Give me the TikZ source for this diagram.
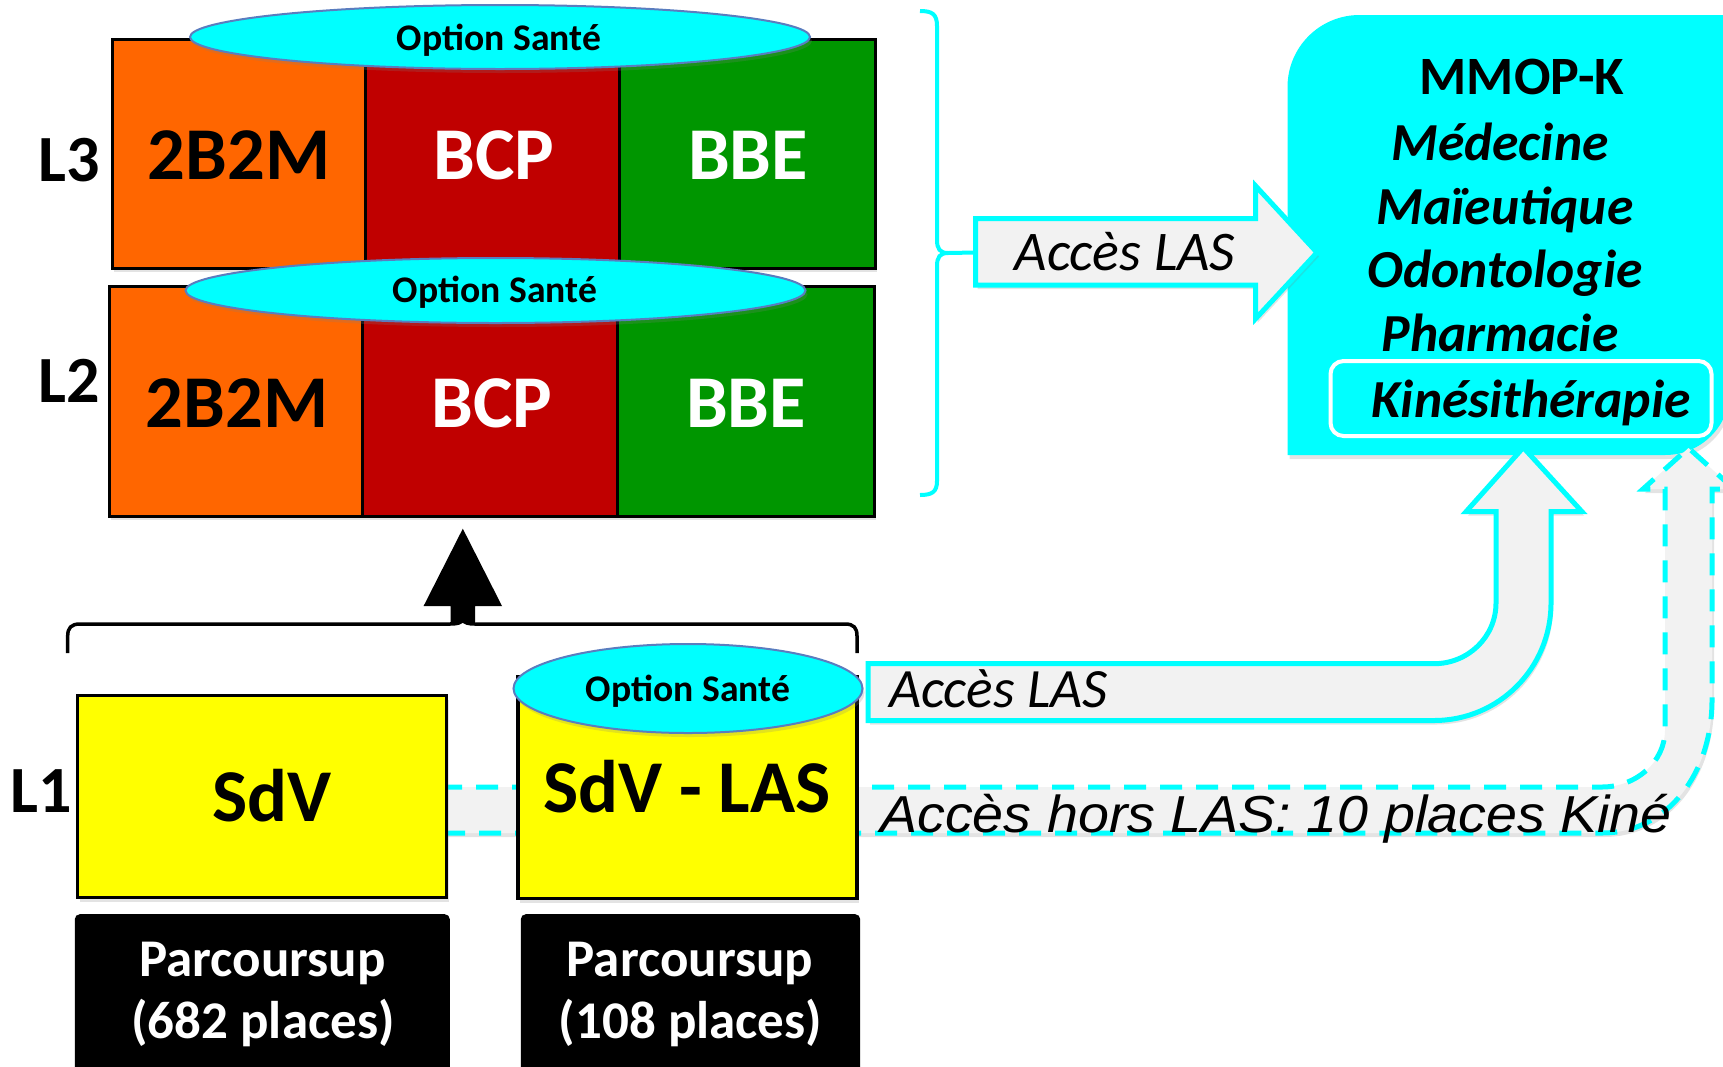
\documentclass[tikz,border=0pt]{standalone}
\usepackage{fontspec}
\usepackage{graphicx}
\setmainfont{Carlito}
\newfontfamily\arialf{Liberation Sans}
\usetikzlibrary{shapes.geometric,shadows}
\definecolor{orangeL}{HTML}{FF6600}
\definecolor{redL}{HTML}{C00000}
\definecolor{greenL}{HTML}{009600}
\definecolor{cyanL}{HTML}{00FFFF}
\definecolor{yellowL}{HTML}{FFFF00}
\definecolor{grayL}{HTML}{F2F2F2}
\definecolor{ellL}{HTML}{5A7DBF}
\tikzset{
  shad/.style={drop shadow={shadow xshift=2pt, shadow yshift=-4pt, opacity=0.22}},
  cellbox/.style={draw=black, line width=3pt, inner sep=0pt, minimum height=229pt, shad},
  optell/.style={ellipse, fill=cyanL, draw=ellL, line width=2pt, inner sep=0pt, shad},
  lvl/.style={font=\fontsize{66}{66}\selectfont\bfseries, anchor=base, inner sep=0pt},
  celltxt/.style={font=\fontsize{74.5}{74.5}\selectfont\bfseries, anchor=base, inner sep=0pt},
  opttxt/.style={font=\fontsize{37.6}{37.6}\selectfont\bfseries, anchor=base, inner sep=0pt},
  yelbox/.style={draw=black, fill=yellowL, line width=3.5pt, inner sep=0pt, shad},
  psbox/.style={fill=black, rounded corners=5pt, inner sep=0pt, anchor=north west},
  pstxt/.style={font=\fontsize{53}{53}\selectfont\bfseries, text=white, anchor=base, inner sep=0pt},
  mmtxt/.style={font=\fontsize{53.5}{53.5}\selectfont\bfseries\itshape, anchor=base, inner sep=0pt},
  lasarrow/.style={fill=grayL, draw=cyanL, line width=5pt, shad},
  lastxt/.style={font=\fontsize{56}{56}\selectfont\itshape, anchor=base, inner sep=0pt},
}
\begin{document}
\begin{tikzpicture}[x=1pt,y=-1pt]
\useasboundingbox (0,0) rectangle (1723,1066);
\clip (0,0) rectangle (1723,1066);

% big cyan box
\path[fill=cyanL, shad] (1287.5,455) -- (1287.5,87) .. controls (1287.5,47.2) and (1319.7,15) .. (1359.5,15)
  -- (1730,15) -- (1730,390) .. controls (1730,426) and (1701,455) .. (1665,455) -- cycle;
\node[mmtxt, font=\fontsize{54}{54}\selectfont\bfseries] (mmop) at (1522,94.7) {MMOP-K};
\node[mmtxt] (med) at (1500,160) {Médecine};
\node[mmtxt] (mai) at (1505,224) {Maïeutique};
\node[mmtxt] (odo) at (1505,287.6) {Odontologie};
\node[mmtxt] (pha) at (1500,351) {Pharmacie};
\node[draw=white, line width=4pt, rounded corners=13pt, minimum width=381pt, minimum height=75pt, inner sep=0pt] (kinebox) at (1521,398.5) {};
\node[mmtxt] (kine) at (1531,417.5) {Kinésithérapie};

% dashed arrow (hors LAS)
\path[fill=grayL, draw=cyanL, line width=5pt, dash pattern=on 22pt off 14pt, shad]
  (440,787) -- (1602,787) .. controls (1636,787) and (1665,762) .. (1665,730)
  -- (1665,489) -- (1643,489) -- (1688.5,448) -- (1734,489) -- (1712,489)
  -- (1712,700) .. controls (1712,773) and (1668,833) .. (1602,833) -- (440,833) -- cycle;

% solid bent arrow (Acces LAS)
\path[lasarrow] (868,663.7) -- (1434,663.7) .. controls (1468,663.7) and (1496,637) .. (1496,603)
  -- (1496,511.7) -- (1466,511.7) -- (1523.3,447.5) -- (1582,511.7) -- (1551,511.7)
  -- (1551,603) .. controls (1551,668) and (1499,720.5) .. (1434,720.5) -- (868,720.5) -- cycle;
\node[lastxt, font=\fontsize{55.5}{55.5}\selectfont\itshape, anchor=base west] (las2) at (889,707) {Accès LAS};

% L1 boxes
\node[yelbox, minimum width=369pt, minimum height=202pt] (sdv) at (262,796.6) {};
\node[celltxt] (sdvt) at (272,821) {SdV};
\node[yelbox, minimum width=339pt, minimum height=222pt] (sdvlas) at (687.5,787.5) {};
\node[optell, minimum width=349pt, minimum height=89pt] (opt1) at (688,688.5) {};
\node[opttxt] (opt1t) at (688,701) {Option Santé};
\node[celltxt] (sdvlast) at (687,812) {SdV - LAS};
\node[lvl] (l1) at (41.5,812) {L1};

\node[lastxt, font=\fontsize{52}{52}\selectfont\arialf\itshape, anchor=base west] (hors) at (880,832)
  {\scalebox{1.07}[1]{Accès hors LAS: 10 places Kiné}};

% Parcoursup boxes
\node[psbox, minimum width=375pt, minimum height=180pt] (ps1) at (74.6,914) {};
\node[pstxt] (ps1a) at (262.6,976) {Parcoursup};
\node[pstxt] (ps1b) at (263,1038) {(682 places)};
\node[psbox, minimum width=339.4pt, minimum height=180pt] (ps2) at (520.6,914) {};
\node[pstxt] (ps2a) at (690,976) {Parcoursup};
\node[pstxt] (ps2b) at (690.5,1038) {(108 places)};

% black brace and arrow
\coordinate (bt) at (462.8,620);
\draw[line width=3.5pt] (67.7,653) -- (67.7,636) .. controls (67.7,628) and (71,624) .. (80,624) -- (450,624)
  .. controls (457,624) and (461,623) .. (bt) .. controls (464.5,623) and (468.5,624) .. (475,624)
  -- (845,624) .. controls (854,624) and (857,628) .. (857,636) -- (857,653);
\coordinate (atip) at (462.8,528.7);
\fill (450.6,622) -- (450.6,606) -- (423.6,606) -- (atip) -- (502,606) -- (475,606) -- (475,622) -- cycle;

% L3 row
\node[cellbox, fill=orangeL, minimum width=253pt] (l3a) at (238.5,153.5) {};
\node[cellbox, fill=redL, minimum width=254pt] (l3b) at (492,153.5) {};
\node[cellbox, fill=greenL, minimum width=256pt] (l3c) at (747,153.5) {};
\node[celltxt] (l3at) at (239,179.5) {2B2M};
\node[celltxt, text=white] (l3bt) at (494,179.5) {BCP};
\node[celltxt, text=white] (l3ct) at (748,179.5) {BBE};
\node[optell, minimum width=620pt, minimum height=64pt] (opt3) at (500,37) {};
\node[opttxt] (opt3t) at (499,50) {Option Santé};
\node[lvl] (l3) at (69,181) {L3};

% L2 row
\node[cellbox, fill=orangeL, minimum width=253pt, minimum height=229.5pt] (l2a) at (235.5,401.25) {};
\node[cellbox, fill=redL, minimum width=255pt, minimum height=229.5pt] (l2b) at (489.5,401.25) {};
\node[cellbox, fill=greenL, minimum width=257pt, minimum height=229.5pt] (l2c) at (745.5,401.25) {};
\node[celltxt] (l2at) at (237,427) {2B2M};
\node[celltxt, text=white] (l2bt) at (492,427) {BCP};
\node[celltxt, text=white] (l2ct) at (746,427) {BBE};
\node[optell, minimum width=620pt, minimum height=65pt] (opt2) at (495.5,290.5) {};
\node[opttxt] (opt2t) at (495,302.4) {Option Santé};
\node[lvl] (l2) at (69,402) {L2};

% cyan brace
\coordinate (ctip) at (948,253);
\draw[cyanL, line width=4pt] (920,11) .. controls (932,11) and (937,14) .. (937,26) -- (937,240)
  .. controls (937,249) and (940,253) .. (ctip) .. controls (940,253) and (937,257) .. (937,266)
  -- (937,481) .. controls (937,492) and (932,495) .. (920,495);

% upper Acces LAS arrow
\path[lasarrow] (975.6,218.7) -- (1255.7,218.7) -- (1255.7,186) -- (1317,252.5) -- (1255.7,318.6)
  -- (1255.7,285) -- (975.6,285) -- cycle;
\coordinate (aleft) at (975.6,252.5);
\draw[cyanL, line width=4pt] (ctip) -- (aleft);
\node[lastxt] (las1) at (1125,270) {Accès LAS};
\end{tikzpicture}
\end{document}
